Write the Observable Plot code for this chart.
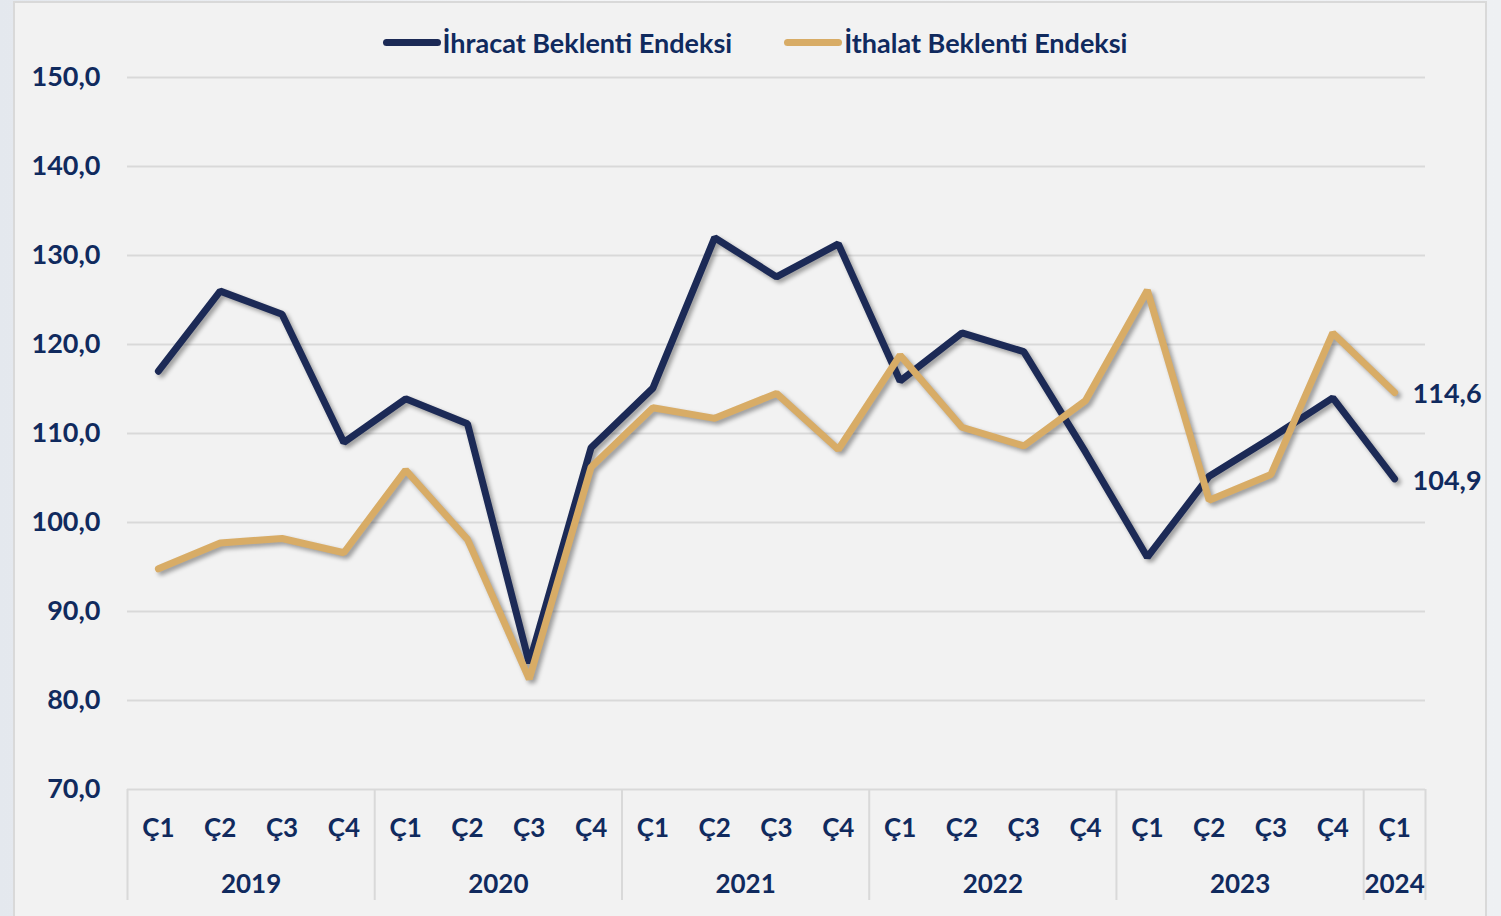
<!DOCTYPE html>
<html>
<head>
<meta charset="utf-8">
<script src="https://cdn.jsdelivr.net/npm/d3@7"></script>
<script src="https://cdn.jsdelivr.net/npm/@observablehq/plot@0.6"></script>
<style>
  html, body { margin: 0; padding: 0; }
  body {
    width: 1501px; height: 916px; overflow: hidden; position: relative;
    background: linear-gradient(90deg, #e4e8ee 0%, #f4f5f7 40%, #eef0f3 100%);
    font-family: Lato, "Open Sans", sans-serif;
  }
  #panel {
    position: absolute; left: 13px; top: 1px; width: 1474px; height: 920px;
    background: #f2f2f2; border: 2px solid #d9d9d9; box-sizing: border-box;
  }
  #chart { position: absolute; left: 0; top: 0; }
  #legend {
    position: absolute; top: 26px; left: 0; width: 1501px;
    display: flex; justify-content: center; gap: 52px; padding-left: 9px; box-sizing: border-box;
    font-weight: 700; font-size: 27px; color: #102a5e;
  }
  .item { display: flex; align-items: center; }
  .sw { width: 58px; height: 7px; border-radius: 4px; margin-right: 2px; }
  g[aria-label="line"] { filter: drop-shadow(3px 3px 2px rgba(0,0,0,0.35)); }
</style>
</head>
<body>
<div id="panel"></div>
<div id="chart"></div>
<div id="legend"></div>
<script>
const years = ["2019","2019","2019","2019","2020","2020","2020","2020","2021","2021","2021","2021","2022","2022","2022","2022","2023","2023","2023","2023","2024"];
const quarters = ["Ç1","Ç2","Ç3","Ç4","Ç1","Ç2","Ç3","Ç4","Ç1","Ç2","Ç3","Ç4","Ç1","Ç2","Ç3","Ç4","Ç1","Ç2","Ç3","Ç4","Ç1"];
const ihracat = [117.0, 126.0, 123.4, 109.0, 113.9, 111.1, 84.2, 108.4, 115.1, 132.0, 127.6, 131.3, 115.9, 121.3, 119.2, 107.9, 96.1, 105.2, 109.5, 114.0, 104.9];
const ithalat = [94.8, 97.7, 98.2, 96.6, 105.9, 98.1, 82.4, 106.2, 112.9, 111.7, 114.5, 108.2, 118.8, 110.7, 108.6, 113.7, 126.1, 102.5, 105.4, 121.3, 114.6];
const seriesNames = ["İhracat Beklenti Endeksi", "İthalat Beklenti Endeksi"];
const seriesColors = ["#1c2a56", "#d8ac66"];
const yTicks = [70, 80, 90, 100, 110, 120, 130, 140, 150];

const textColor = "#102a5e";
const fmt = v => v.toFixed(1).replace(".", ",");

const rows = [];
quarters.forEach((q, i) => {
  rows.push({i, q, year: years[i], value: ihracat[i], series: seriesNames[0]});
  rows.push({i, q, year: years[i], value: ithalat[i], series: seriesNames[1]});
});
const idx = quarters.map((q, i) => ({i, q}));

const groups = d3.groups(quarters.map((q, i) => ({i, year: years[i]})), d => d.year)
  .map(([year, arr]) => ({year, first: arr[0].i, last: arr[arr.length - 1].i}));
const separators = groups.map(g => g.first - 0.5).concat([groups[groups.length - 1].last + 0.5]);

const n = quarters.length;
const lastRows = [
  {i: n - 1, value: ihracat[n - 1]},
  {i: n - 1, value: ithalat[n - 1]}
];

const chart = Plot.plot({
  width: 1501,
  height: 916,
  marginLeft: 127,
  marginRight: 76,
  marginTop: 77,
  marginBottom: 127,
  style: {background: "transparent", fontFamily: "Lato, 'Open Sans', sans-serif", overflow: "visible"},
  x: {domain: [-0.5, n - 0.5], axis: null},
  y: {domain: [70, 150], ticks: yTicks},
  color: {domain: seriesNames, range: seriesColors},
  marks: [
    Plot.gridY(yTicks, {stroke: "#d9d9d9", strokeOpacity: 1, strokeWidth: 2}),
    Plot.axisY(yTicks, {tickSize: 0, tickPadding: 27, tickFormat: fmt, fontSize: 27, fontWeight: 700, fill: textColor, label: null}),
    Plot.ruleX(separators, {x: d => d, y1: 70, y2: 70, insetBottom: -111, stroke: "#d9d9d9", strokeWidth: 2}),
    Plot.text(idx, {x: "i", text: "q", frameAnchor: "bottom", dy: 47, fontSize: 26, fontWeight: 700, fill: textColor}),
    Plot.text(groups, {x: d => (d.first + d.last) / 2, text: "year", frameAnchor: "bottom", dy: 103, fontSize: 26, fontWeight: 700, fill: textColor}),
    Plot.line(rows, {x: "i", y: "value", z: "series", stroke: "series", strokeWidth: 7, strokeLinejoin: "miter", strokeLinecap: "round"}),
    Plot.text(lastRows, {x: "i", y: "value", text: d => fmt(d.value), dx: 18, dy: 2, textAnchor: "start", fontSize: 27, fontWeight: 700, fill: textColor})
  ]
});
document.getElementById("chart").appendChild(chart);

const legend = document.getElementById("legend");
seriesNames.forEach((name, k) => {
  const item = document.createElement("div");
  item.className = "item";
  const sw = document.createElement("div");
  sw.className = "sw";
  sw.style.background = seriesColors[k];
  const t = document.createElement("span");
  t.textContent = name;
  item.appendChild(sw);
  item.appendChild(t);
  legend.appendChild(item);
});
</script>
</body>
</html>
